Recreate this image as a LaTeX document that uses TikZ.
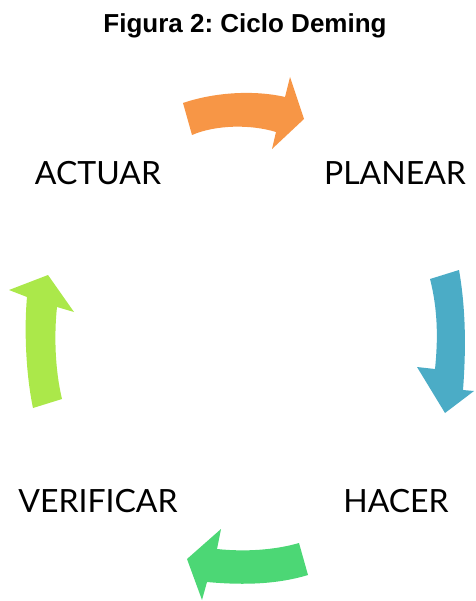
\documentclass[tikz,border=0pt]{standalone}
\usepackage{tikz}
\usepackage{xcolor}
\usepackage{fontspec}
\newfontfamily\titlefont{Liberation Sans}
\newfontfamily\labelfont{Lato}
\frenchspacing

\definecolor{planorange}{HTML}{F79646}
\definecolor{doblue}{HTML}{4BACC6}
\definecolor{checkgreen}{HTML}{4CD775}
\definecolor{actlime}{HTML}{ABE84A}

\begin{document}
\begin{tikzpicture}[x=1pt, y=-1pt, lbl/.style={anchor=base, inner sep=0pt, font=\labelfont\fontsize{32}{32}\selectfont}]
\useasboundingbox (0,0) rectangle (475,601);

\node (title) at (245,33) [anchor=base, inner sep=0pt, font=\titlefont\bfseries\fontsize{26}{26}\selectfont] {Figura 2: Ciclo Deming};

\node (actuar) at (98,185) [lbl] {ACTUAR};
\node (planear) at (395,185) [lbl] {PLANEAR};
\node (verificar) at (98,512) [lbl] {VERIFICAR};
\node (hacer) at (396,512) [lbl] {HACER};

% curved block arrows
\fill[planorange] (183,103) .. controls (215,92) and (255,90) .. (285,97) -- (290,77) -- (304,119) -- (272,149) -- (276,132) .. controls (250,124) and (215,125) .. (192,135) -- cycle;
\fill[doblue] (430,279) -- (459,270) .. controls (466,310) and (466,350) .. (463,390) -- (474,391) -- (445,413) -- (417,367) -- (435,369) .. controls (438,340) and (438,310) .. (430,279) -- cycle;
\fill[checkgreen] (299,543) -- (308,575) .. controls (275,585) and (240,585) .. (207,582) -- (202,600) -- (187,559) -- (221,529) -- (217,549) .. controls (245,552) and (275,550) .. (299,543) -- cycle;
\fill[actlime] (33,408) -- (62,399) .. controls (55,370) and (54,335) .. (57,307) -- (74,312) -- (48,275) -- (9,290) -- (27,297) .. controls (24,330) and (26,375) .. (33,408) -- cycle;
\end{tikzpicture}
\end{document}
